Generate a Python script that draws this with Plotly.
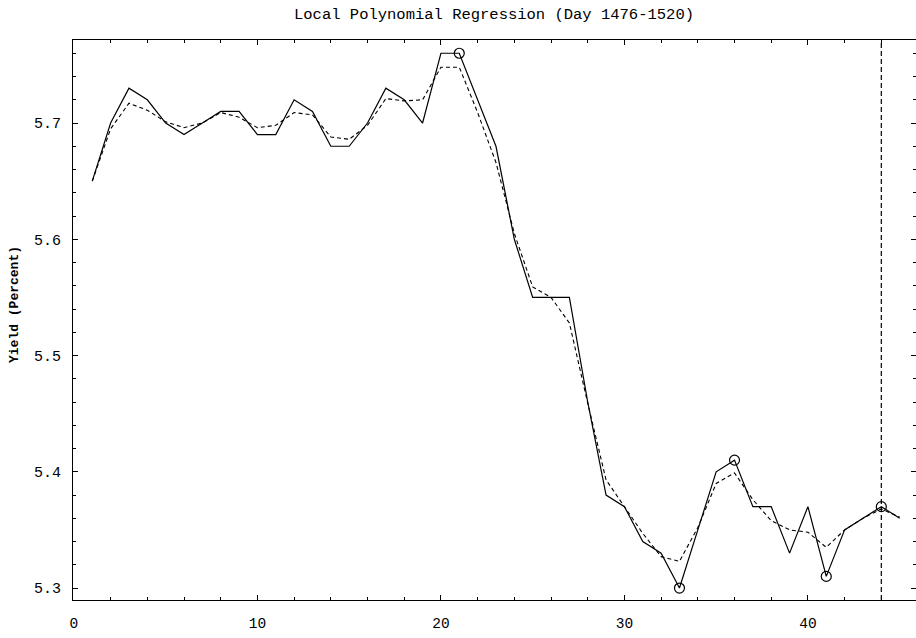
import plotly.graph_objects as go

# Day index within the window (Day 1476-1520)
days = list(range(1, 46))

# Observed yield (percent)
yield_obs = [
    5.65, 5.70, 5.73, 5.72, 5.70, 5.69, 5.70, 5.71, 5.71, 5.69,
    5.69, 5.72, 5.71, 5.68, 5.68, 5.70, 5.73, 5.72, 5.70, 5.76,
    5.76, 5.72, 5.68, 5.60, 5.55, 5.55, 5.55, 5.46, 5.38, 5.37,
    5.34, 5.33, 5.30, 5.35, 5.40, 5.41, 5.37, 5.37, 5.33, 5.37,
    5.31, 5.35, 5.36, 5.37, 5.36,
]

# Local polynomial regression fit
yield_fit = [
    5.650, 5.695, 5.717, 5.711, 5.701, 5.696, 5.700, 5.709, 5.705, 5.696,
    5.698, 5.709, 5.707, 5.688, 5.686, 5.698, 5.721, 5.719, 5.720, 5.748,
    5.748, 5.709, 5.666, 5.605, 5.559, 5.550, 5.528, 5.459, 5.393, 5.370,
    5.347, 5.327, 5.323, 5.352, 5.390, 5.399, 5.376, 5.358, 5.350, 5.348,
    5.335, 5.350, 5.360, 5.368, 5.361,
]

# Turning points marked with open circles
turn_days = [21, 33, 36, 41, 44]
turn_vals = [5.76, 5.30, 5.41, 5.31, 5.37]

# Day of the vertical reference line
marker_day = 44

MONO = "Liberation Mono, Courier New, monospace"

fig = go.Figure()

fig.add_trace(go.Scatter(
    x=days, y=yield_obs, mode="lines",
    line=dict(color="black", width=1.2),
    showlegend=False,
))
fig.add_trace(go.Scatter(
    x=days, y=yield_fit, mode="lines",
    line=dict(color="black", width=1.1, dash="4px,3px"),
    showlegend=False,
))
fig.add_trace(go.Scatter(
    x=turn_days, y=turn_vals, mode="markers",
    marker=dict(symbol="circle-open", size=10, color="black",
                line=dict(width=1.2, color="black")),
    showlegend=False,
))

fig.add_shape(
    type="line", xref="x", yref="paper",
    x0=marker_day, x1=marker_day, y0=0, y1=1,
    line=dict(color="black", width=1.2, dash="5px,3px"),
)

fig.update_layout(
    width=916, height=638,
    margin=dict(l=73, r=0, t=40, b=38),
    paper_bgcolor="white", plot_bgcolor="white",
    title=dict(
        text="Local Polynomial Regression (Day 1476-1520)",
        x=494 / 916, xanchor="center", xref="container",
        y=1 - 14 / 638, yanchor="middle", yref="container",
        font=dict(family=MONO, size=15.5, color="black"),
    ),
    font=dict(family=MONO, color="black"),
)

fig.update_xaxes(
    range=[-0.05, 45.89],
    tickmode="array", tickvals=[0, 10, 20, 30, 40],
    ticktext=["0", "10", "20", "30", "40"],
    ticks="inside", ticklen=5, tickwidth=1, tickcolor="black",
    minor=dict(dtick=2, tick0=0, ticks="inside", ticklen=3,
               tickcolor="black", tickwidth=1),
    showline=True, linecolor="black", linewidth=1.2, mirror="ticks",
    showgrid=False, zeroline=False,
    tickfont=dict(family=MONO, size=14.5, color="black"),
    ticklabelstandoff=9,
)

fig.update_yaxes(
    range=[5.2897, 5.7714],
    tickmode="array", tickvals=[5.3, 5.4, 5.5, 5.6, 5.7],
    ticktext=["5.3", "5.4", "5.5", "5.6", "5.7"],
    ticks="inside", ticklen=5, tickwidth=1, tickcolor="black",
    minor=dict(dtick=0.02, tick0=5.3, ticks="inside", ticklen=3,
               tickcolor="black", tickwidth=1),
    showline=True, linecolor="black", linewidth=1.2, mirror="ticks",
    showgrid=False, zeroline=False,
    tickfont=dict(family=MONO, size=15, color="black"),
    ticklabelstandoff=8,
)

fig.add_annotation(
    text="<b>Yield (Percent)</b>",
    xref="paper", yref="paper",
    x=-73 / 843 + 14 / 843, y=(600 - 305) / 560,
    xanchor="center", yanchor="middle",
    textangle=-90, showarrow=False,
    font=dict(family=MONO, size=13, color="black"),
)

fig.write_html("out.html")
